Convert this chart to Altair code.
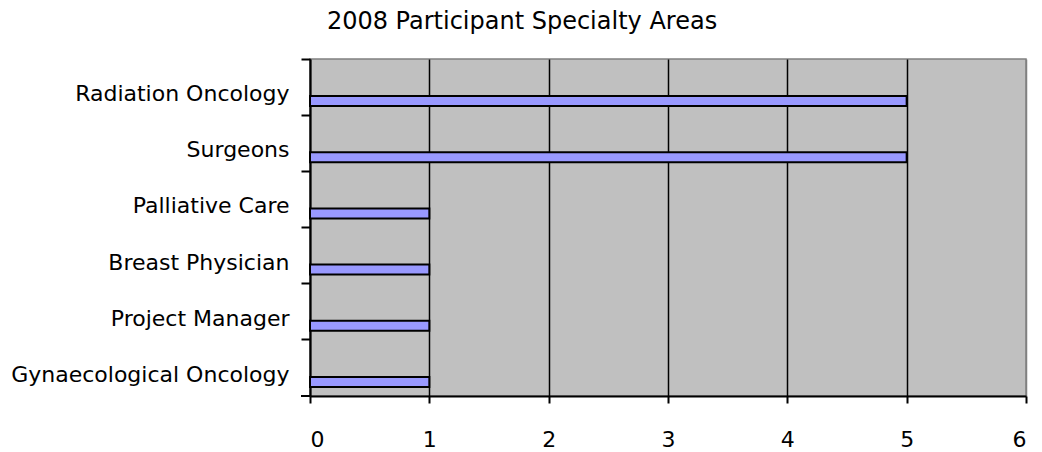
import altair as alt
import pandas as pd

categories = ["Radiation Oncology", "Surgeons", "Palliative Care",
              "Breast Physician", "Project Manager", "Gynaecological Oncology"]
values = [5, 5, 1, 1, 1, 1]
x_ticks = [0, 1, 2, 3, 4, 5, 6]

df = pd.DataFrame({"specialty": categories, "count": values})

FONT = "DejaVu Sans"

bars = alt.Chart(df).mark_bar(
    height=10, yOffset=14, fill="#9999FF", stroke="black", strokeWidth=2
).encode(
    x=alt.X("count:Q",
            scale=alt.Scale(domain=[0, 6], nice=False),
            axis=alt.Axis(values=x_ticks, title=None, grid=True,
                          gridColor=alt.condition("datum.value == 6", alt.value("#808080"), alt.value("black")),
                          gridWidth=1.5, domainColor="black", domainWidth=2,
                          tickColor="black", tickWidth=2, tickSize=7,
                          labelPadding=26, labelFont=FONT, labelFontSize=22,
                          labelColor="black", format="d")),
    y=alt.Y("specialty:N", sort=categories,
            scale=alt.Scale(paddingInner=0, paddingOuter=0),
            axis=alt.Axis(title=None, bandPosition=0, grid=False,
                          domainColor="black", domainWidth=2,
                          tickColor="black", tickWidth=2, tickSize=9,
                          labelOffset=7, labelPadding=12, labelFont=FONT,
                          labelFontSize=22, labelColor="black", labelLimit=400)),
)

bottom_tick = alt.Chart(df).mark_rule(color="black", strokeWidth=2).encode(
    x=alt.value(-9), x2=alt.value(0), y=alt.value(337)
)

chart = alt.layer(bars, bottom_tick).properties(
    width=716, height=337,
    title=alt.TitleParams("2008 Participant Specialty Areas", font=FONT,
                          fontSize=24, fontWeight="normal", color="black",
                          anchor="middle", dx=-146, offset=24),
    autosize=alt.AutoSizeParams(type="none"),
    padding={"left": 302, "top": 51, "right": 8, "bottom": 58},
).configure(
    background="white",
    view=alt.ViewConfig(fill="#C0C0C0", stroke="#808080", strokeWidth=1.5),
)

chart.save("out.html", embed_options={"renderer": "svg", "actions": False})
